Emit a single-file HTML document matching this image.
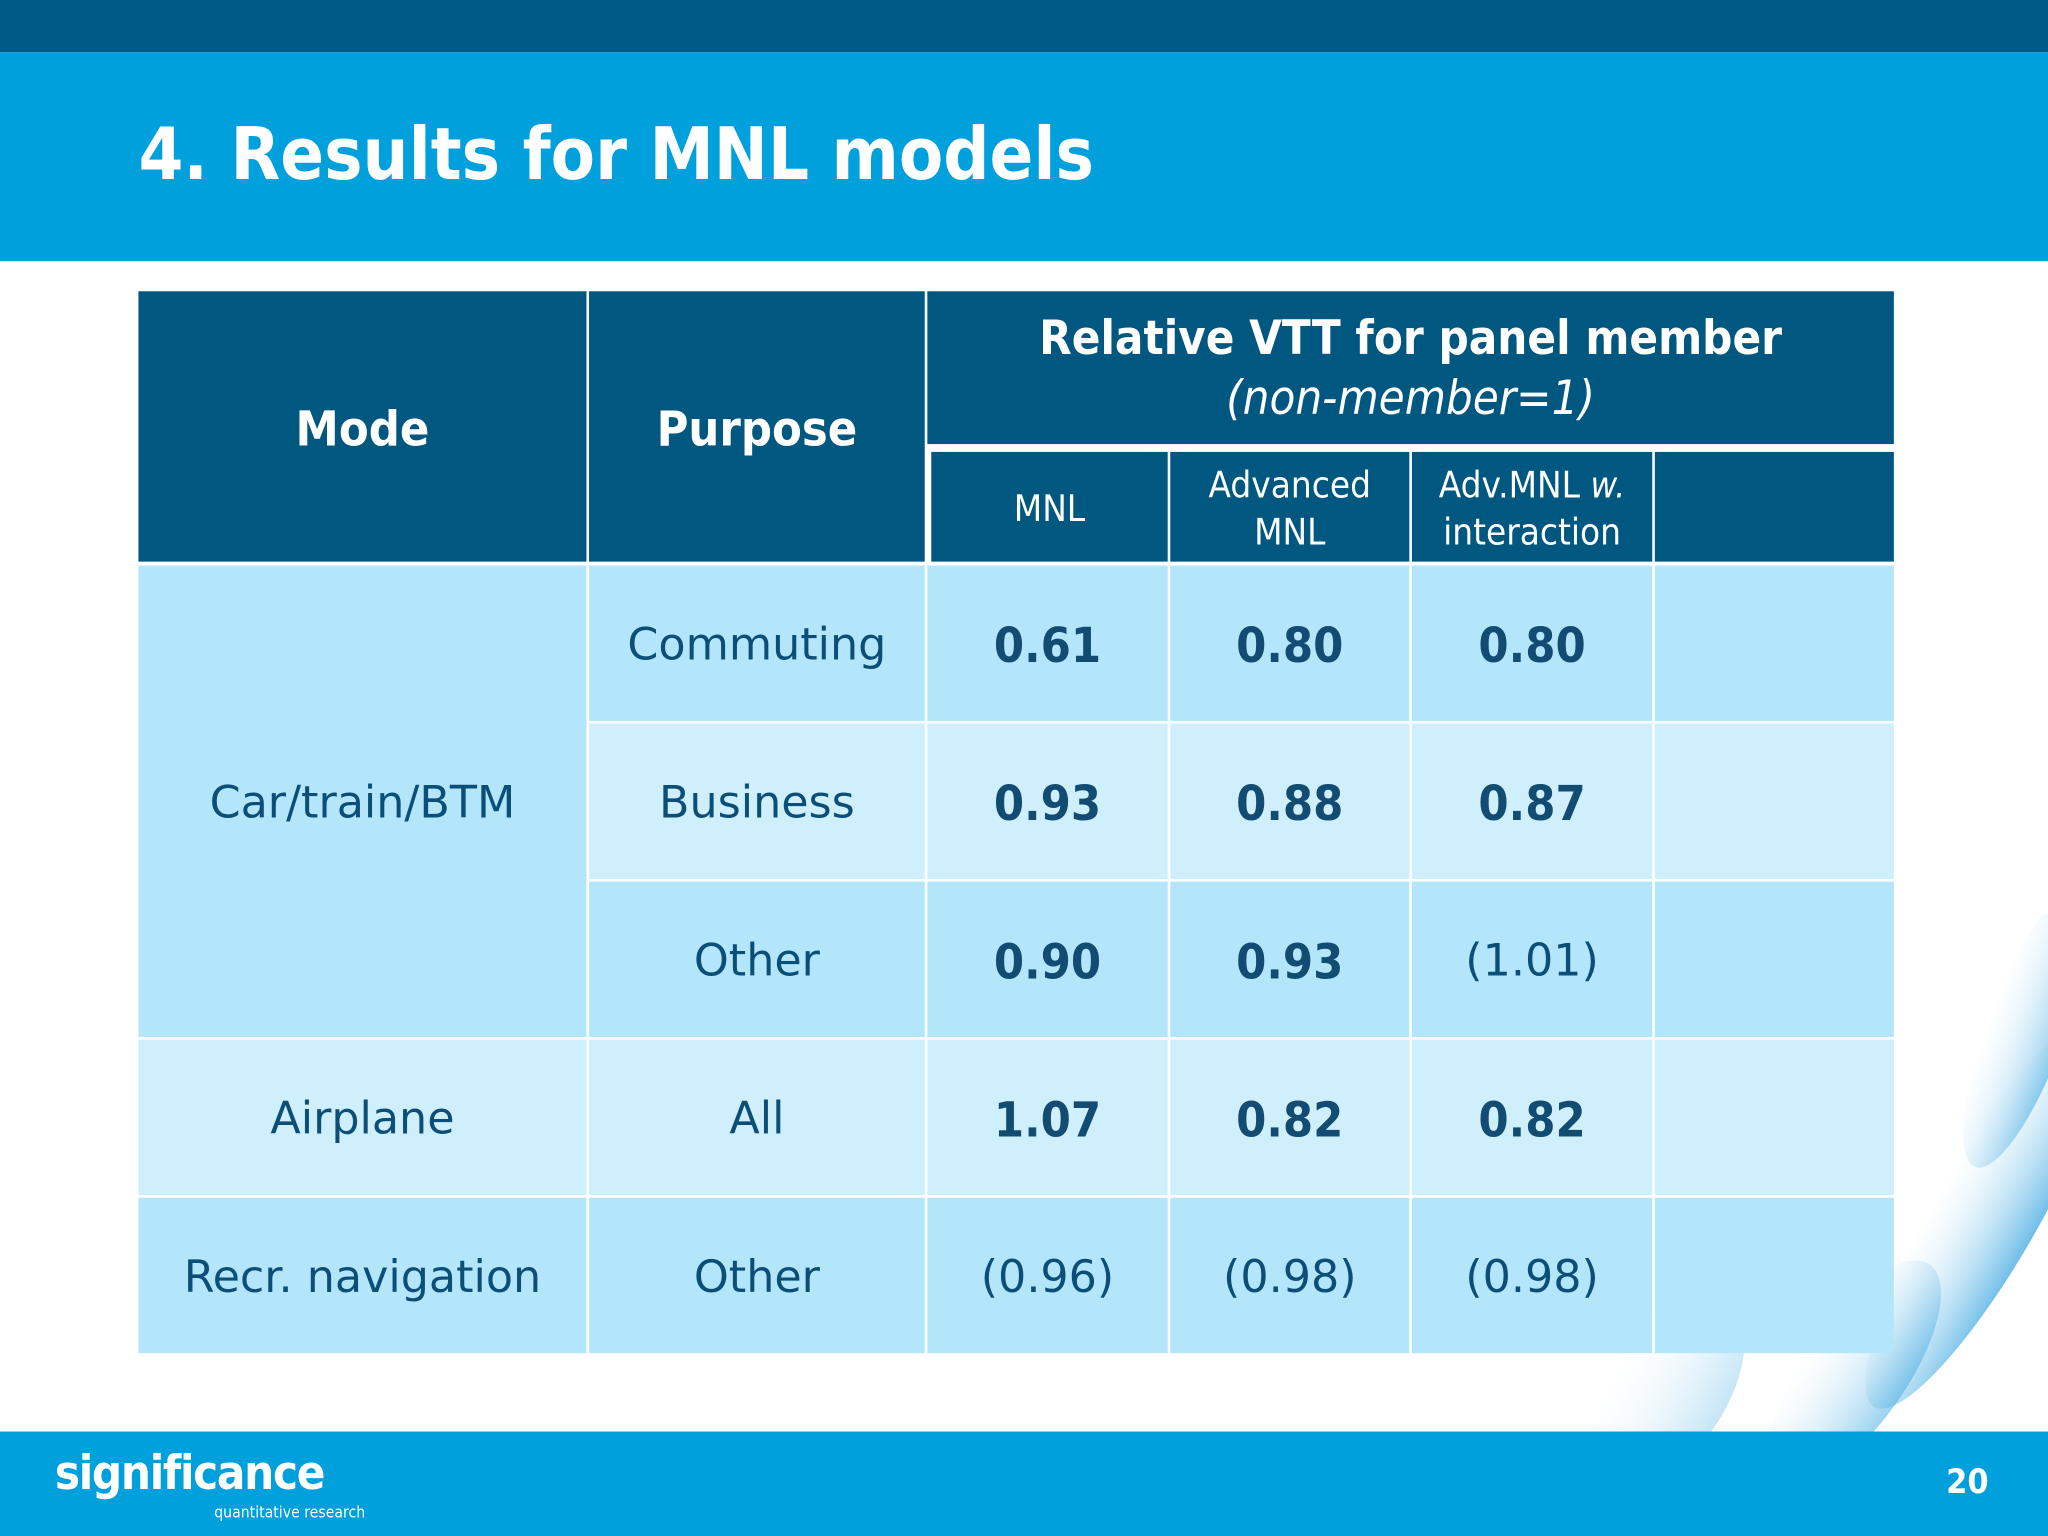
<!DOCTYPE html>
<html><head><meta charset="utf-8"><style>
html,body{margin:0;padding:0;background:#fff;}
#wrap{width:1568px;height:1176px;position:relative;overflow:hidden;transform:scale(1.306122);transform-origin:0 0;font-family:"DejaVu Sans Condensed","DejaVu Sans","Liberation Sans",sans-serif;}
.abs{position:absolute;}
.c{position:absolute;display:flex;align-items:center;justify-content:center;text-align:center;box-sizing:border-box;padding-top:3px;}
.h{background:#00577f;color:#fff;font-weight:bold;}
.t{color:#0b4f78;font-size:34px;font-family:"DejaVu Sans",sans-serif;}
.v{color:#124c72;font-size:37px;font-weight:bold;}
</style></head><body>
<div id="wrap">
<div class="abs" style="left:0;top:0;width:1568px;height:40px;background:#005a87"></div>
<div class="abs" style="left:0;top:40px;width:1568px;height:160px;background:#00a0dc"></div>
<div class="abs" style="left:106px;top:86px;color:#fff;font-size:55px;font-weight:bold;">4. Results for MNL models</div>
<svg class="abs" style="left:1000px;top:700px" width="568" height="400">
<defs><linearGradient id="g" x1="0" y1="0" x2="1" y2="0"><stop offset="0" stop-color="#d8eef9" stop-opacity="0"/><stop offset="1" stop-color="#4aaee3" stop-opacity="0.8"/></linearGradient></defs>
<ellipse cx="520" cy="230" rx="40" ry="170" fill="url(#g)" transform="rotate(30 520 230)"/>
<ellipse cx="420" cy="350" rx="40" ry="100" fill="url(#g)" opacity="0.7" transform="rotate(35 420 350)"/>
<ellipse cx="280" cy="360" rx="45" ry="80" fill="url(#g)" opacity="0.4" transform="rotate(30 280 360)"/>
<ellipse cx="550" cy="90" rx="30" ry="110" fill="url(#g)" opacity="0.8" transform="rotate(20 550 90)"/>
</svg>
<div class="abs" style="left:106px;top:223px;width:1344px;height:813px">
<div class="c h" style="left:0;top:0;width:343px;height:207px;font-size:37px">Mode</div>
<div class="c h" style="left:345px;top:0;width:257px;height:207px;font-size:37px">Purpose</div>
<div class="c h" style="left:604px;top:0;width:740px;height:117px;font-size:36px;line-height:46px;flex-direction:column"><div>Relative VTT for panel member</div><div style="font-weight:normal;font-style:italic">(non-member=1)</div></div>
<div class="c h" style="left:607px;top:123px;width:181px;height:84px;font-size:28px;font-weight:normal">MNL</div>
<div class="c h" style="left:790px;top:123px;width:183px;height:84px;font-size:28px;font-weight:normal;line-height:36px"><div>Advanced<br>MNL</div></div>
<div class="c h" style="left:975px;top:123px;width:184px;height:84px;font-size:28px;font-weight:normal;line-height:36px"><div>Adv.MNL <i>w.</i><br>interaction</div></div>
<div class="c h" style="left:1161px;top:123px;width:183px;height:84px"></div>

<div class="c t" style="left:0;top:210px;width:343px;height:361px;background:#b3e6fb">Car/train/BTM</div>
<div class="c t" style="left:0;top:573px;width:343px;height:119px;background:#d0effc">Airplane</div>
<div class="c t" style="left:0;top:694px;width:343px;height:119px;background:#b3e6fb">Recr. navigation</div>
<div id="rows"></div>
</div>
<div class="abs" style="left:0;top:1096px;width:1568px;height:80px;background:#00a0dc"></div>
<div class="abs" style="left:42px;top:1108px;color:#fff;font-size:36px;font-weight:bold;letter-spacing:-1px">significance</div>
<div class="abs" style="left:164px;top:1151px;color:#fff;font-size:12px">quantitative research</div>
<div class="abs" style="left:1490px;top:1120px;color:#fff;font-size:26px;font-weight:bold">20</div>
</div>
<script>
const purposes=["Commuting","Business","Other","All","Other"];
const mnl=["0.61","0.93","0.90","1.07","(0.96)"];
const adv=["0.80","0.88","0.93","0.82","(0.98)"];
const advInt=["0.80","0.87","(1.01)","0.82","(0.98)"];
const rows=document.getElementById('rows');
const cols=[[345,257],[604,184],[790,183],[975,184],[1161,183]];
purposes.forEach((p,i)=>{
  const top=210+i*121;
  const bg=(i%2===0)?'#b3e6fb':'#d0effc';
  const vals=[p,mnl[i],adv[i],advInt[i],''];
  vals.forEach((v,j)=>{
    const d=document.createElement('div');
    
    
    const bold=j>0&&v&&v[0]!=='(';
    d.className='c '+(bold?'v':'t');
    d.style.cssText=`left:${cols[j][0]}px;top:${top}px;width:${cols[j][1]}px;height:119px;background:${bg}`;
    d.textContent=v;
    rows.appendChild(d);
  });
});
</script>
</body></html>
